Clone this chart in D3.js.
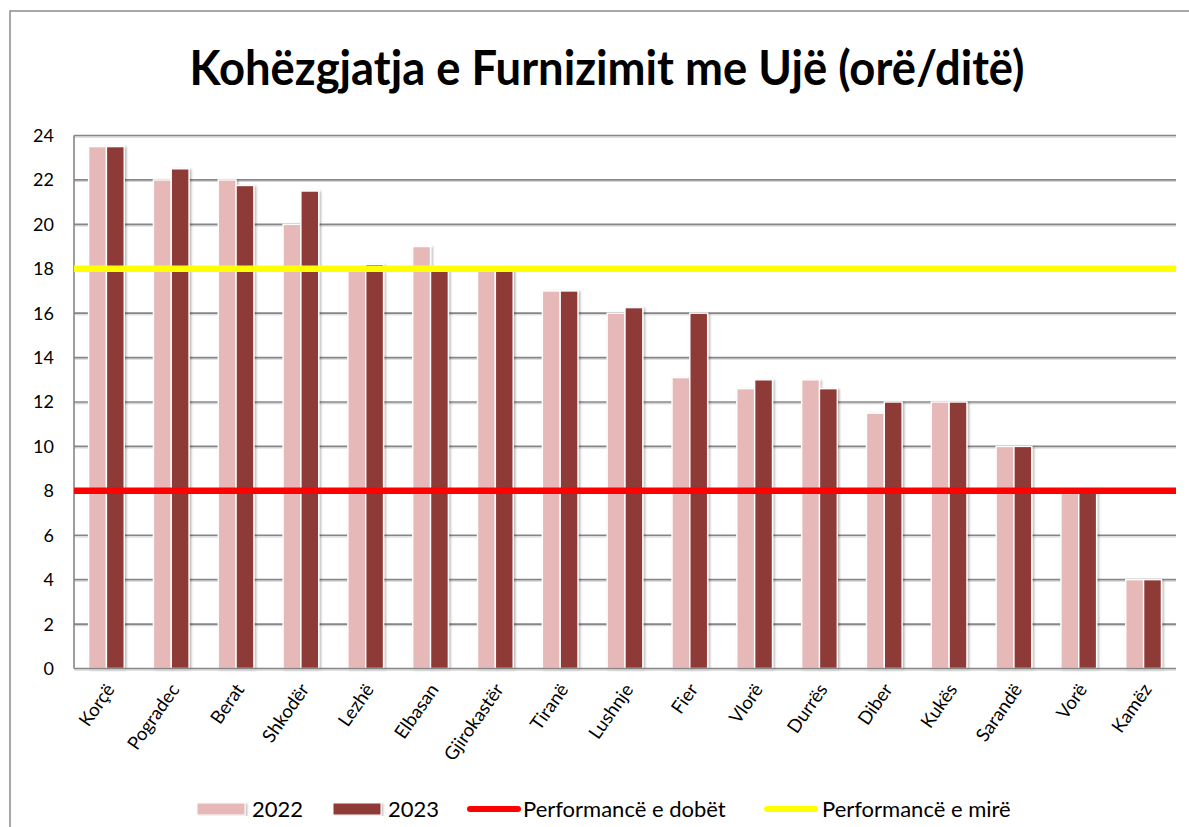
<!DOCTYPE html>
<html>
<head>
<meta charset="utf-8">
<script src="https://cdn.jsdelivr.net/npm/d3@7"></script>
<style>
  body { margin: 0; background: #fff; }
  svg { display: block; font-family: Lato, 'Open Sans', sans-serif; }
</style>
</head>
<body>
<div id="chart"></div>
<script>
// data
const categories = ["Korçë", "Pogradec", "Berat", "Shkodër", "Lezhë", "Elbasan", "Gjirokastër", "Tiranë",
  "Lushnje", "Fier", "Vlorë", "Durrës", "Diber", "Kukës", "Sarandë", "Vorë", "Kamëz"];
const values2022 = [23.5, 22, 22, 20, 18, 19, 18, 17, 16, 13.1, 12.6, 13, 11.5, 12, 10, 8, 4];
const values2023 = [23.5, 22.5, 21.75, 21.5, 18.2, 18, 18, 17, 16.25, 16, 13, 12.6, 12, 12, 10, 8, 4];
const seriesNames = ["2022", "2023"];
const yTicks = [0, 2, 4, 6, 8, 10, 12, 14, 16, 18, 20, 22, 24];
const poorLevel = 8;   // Performancë e dobët
const goodLevel = 18;  // Performancë e mirë
const title = "Kohëzgjatja e Furnizimit me Ujë (orë/ditë)";

const W = 1189, H = 827;
const colors = { "2022": "#E6B9B8", "2023": "#8E3A38" };

const svg = d3.select("#chart").append("svg")
  .attr("width", W).attr("height", H);

// soft shadow for bars
const defs = svg.append("defs");
const f = defs.append("filter").attr("id", "shadow")
  .attr("x", "-30%").attr("y", "-5%").attr("width", "160%").attr("height", "110%");
f.append("feDropShadow").attr("dx", 1.5).attr("dy", 1).attr("stdDeviation", 1.2)
  .attr("flood-color", "#000").attr("flood-opacity", 0.3);

// outer chart frame (runs off the right and bottom of the picture)
svg.append("rect")
  .attr("x", 10).attr("y", 11).attr("width", 1200).attr("height", 900)
  .attr("fill", "none").attr("stroke", "#8c8c8c").attr("stroke-width", 1.5);

// title
const titleText = svg.append("text")
  .attr("x", 607).attr("y", 85)
  .attr("text-anchor", "middle")
  .style("font-weight", "bold").style("font-size", "48px")
  .attr("fill", "#000")
  .text(title);
const tw = titleText.node().getComputedTextLength();
if (Math.abs(tw - 835) > 10) {
  titleText.attr("textLength", 835).attr("lengthAdjust", "spacingAndGlyphs");
}

// plot area
const plot = { left: 74, right: 1176, top: 135.5, bottom: 668.5 };

const x0 = d3.scaleBand()
  .domain(categories)
  .range([plot.left, plot.right])
  .padding(0);

const bw = x0.bandwidth();
const x1 = d3.scaleBand()
  .domain(seriesNames)
  .range([bw * 0.225, bw * 0.775])
  .padding(0);

const y = d3.scaleLinear()
  .domain([0, 24])
  .range([plot.bottom, plot.top]);

// gridlines with a light shadow below each
const grid = svg.append("g").attr("class", "grid");
yTicks.filter(t => t > 0).forEach(t => {
  grid.append("line")
    .attr("x1", plot.left).attr("x2", plot.right)
    .attr("y1", y(t) + 1.6).attr("y2", y(t) + 1.6)
    .attr("stroke", "#d4d4d4").attr("stroke-width", 1.2);
  grid.append("line")
    .attr("x1", plot.left).attr("x2", plot.right)
    .attr("y1", y(t)).attr("y2", y(t))
    .attr("stroke", "#868686").attr("stroke-width", 1.6);
});

// y axis labels
svg.append("g").selectAll("text")
  .data(yTicks)
  .enter().append("text")
  .attr("x", 54)
  .attr("y", d => y(d))
  .attr("dy", "0.36em")
  .attr("text-anchor", "end")
  .style("font-size", "18px")
  .attr("fill", "#000")
  .text(d => d);

// bars
const rows = categories.map((c, i) => ({ cat: c, vals: [
  { key: "2022", value: values2022[i] },
  { key: "2023", value: values2023[i] }
]}));

const groups = svg.append("g").attr("class", "bars")
  .selectAll("g")
  .data(rows)
  .enter().append("g")
  .attr("transform", d => `translate(${x0(d.cat)},0)`);

groups.selectAll("rect")
  .data(d => d.vals)
  .enter().append("rect")
  .attr("x", d => x1(d.key))
  .attr("y", d => y(d.value))
  .attr("width", x1.bandwidth())
  .attr("height", d => y(0) - y(d.value))
  .attr("fill", d => colors[d.key])
  .attr("stroke", "#fff")
  .attr("stroke-width", 1.4)
  .attr("filter", "url(#shadow)");

// axes lines
svg.append("line")
  .attr("x1", plot.left).attr("x2", plot.right)
  .attr("y1", y(0) + 1.6).attr("y2", y(0) + 1.6)
  .attr("stroke", "#d4d4d4").attr("stroke-width", 1.2);
svg.append("line")
  .attr("x1", plot.left).attr("x2", plot.right)
  .attr("y1", y(0)).attr("y2", y(0))
  .attr("stroke", "#868686").attr("stroke-width", 1.6);
svg.append("line")
  .attr("x1", plot.left).attr("x2", plot.left)
  .attr("y1", plot.top).attr("y2", y(0))
  .attr("stroke", "#868686").attr("stroke-width", 1.6);

// reference lines
svg.append("line")
  .attr("x1", plot.left).attr("x2", plot.right)
  .attr("y1", y(goodLevel)).attr("y2", y(goodLevel))
  .attr("stroke", "#FFFF00").attr("stroke-width", 6.5);
svg.append("line")
  .attr("x1", plot.left).attr("x2", plot.right)
  .attr("y1", y(poorLevel)).attr("y2", y(poorLevel))
  .attr("stroke", "#FF0000").attr("stroke-width", 6.5);

// x labels, rotated
svg.append("g").selectAll("text")
  .data(categories)
  .enter().append("text")
  .attr("transform", d => `translate(${x0(d) + bw / 2 + 9},${y(0) + 21}) rotate(-55)`)
  .attr("text-anchor", "end")
  .style("font-size", "18.5px")
  .attr("fill", "#000")
  .text(d => d);

// legend
const legend = svg.append("g").attr("class", "legend");
const ly = 809;
const items = [
  { type: "rect", color: colors["2022"], x: 197, tx: 252, label: seriesNames[0] },
  { type: "rect", color: colors["2023"], x: 333, tx: 388, label: seriesNames[1] },
  { type: "line", color: "#FF0000", x: 470, tx: 523, label: "Performancë e dobët" },
  { type: "line", color: "#FFFF00", x: 767, tx: 822, label: "Performancë e mirë" }
];
items.forEach(it => {
  if (it.type === "rect") {
    legend.append("rect")
      .attr("x", it.x).attr("y", ly - 6).attr("width", 48).attr("height", 12)
      .attr("fill", it.color).attr("stroke", "#fff").attr("stroke-width", 1)
      .attr("filter", "url(#shadow)");
  } else {
    legend.append("line")
      .attr("x1", it.x).attr("x2", it.x + 48)
      .attr("y1", ly).attr("y2", ly)
      .attr("stroke", it.color).attr("stroke-width", 6)
      .attr("stroke-linecap", "round");
  }
  legend.append("text")
    .attr("x", it.tx).attr("y", ly)
    .attr("dy", "0.36em")
    .style("font-size", "22px")
    .attr("fill", "#000")
    .text(it.label);
});
</script>
</body>
</html>
